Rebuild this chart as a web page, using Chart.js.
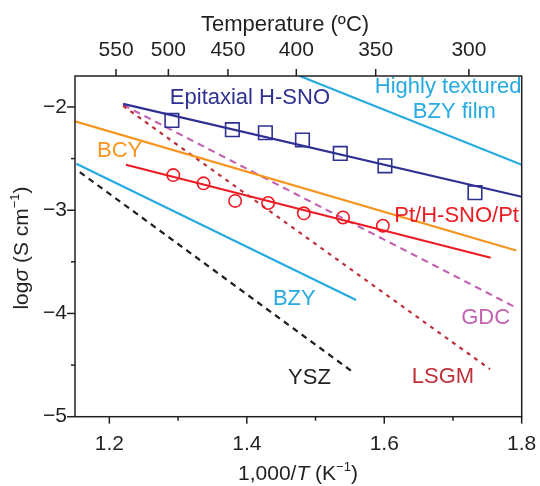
<!DOCTYPE html>
<html>
<head>
<meta charset="utf-8">
<script src="https://cdn.jsdelivr.net/npm/chart.js@4.4.1/dist/chart.umd.min.js"></script>
<style>
  html, body { margin: 0; padding: 0; background: #fff; }
  #wrap { width: 540px; height: 486px; }
</style>
</head>
<body>
<div id="wrap"><canvas id="chart"></canvas></div>
<script>
// x = 1,000/T (K^-1), y = log sigma (S cm^-1)
const hSnoX = [1.291, 1.379, 1.427, 1.481, 1.536, 1.601, 1.732];
const hSnoY = [-2.13, -2.22, -2.25, -2.32, -2.45, -2.57, -2.83];
const ptX = [1.293, 1.337, 1.383, 1.431, 1.483, 1.540, 1.598];
const ptY = [-2.66, -2.74, -2.91, -2.93, -3.03, -3.07, -3.15];

// fitted / literature lines (end points)
const hSnoFitX = [1.220, 1.800];
const hSnoFitY = [-1.97, -2.87];
const ptFitX = [1.224, 1.755];
const ptFitY = [-2.56, -3.46];
const texturedBzyX = [1.477, 1.800];
const texturedBzyY = [-1.70, -2.56];
const bcyX = [1.150, 1.792];
const bcyY = [-2.14, -3.39];
const bzyX = [1.152, 1.559];
const bzyY = [-2.55, -3.87];
const yszX = [1.157, 1.557];
const yszY = [-2.63, -4.58];
const lsgmX = [1.220, 1.754];
const lsgmY = [-1.99, -4.54];
const gdcX = [1.220, 1.788];
const gdcY = [-1.98, -3.93];

const xTicks = [1.2, 1.3, 1.4, 1.5, 1.6, 1.7, 1.8];
const xLabelled = [1.2, 1.4, 1.6, 1.8];
const yTicks = [-5, -4.5, -4, -3.5, -3, -2.5, -2];
const topTemps = [550, 500, 450, 400, 350, 300];

const ink = '#231f20';
const navy = '#2e3192';
const sky = '#27aae1';
const orange = '#f7941d';
const red = '#ed1c24';
const wine = '#c0303a';
const orchid = '#c362b0';
const family = "'Liberation Sans', Arial, Helvetica, sans-serif";
const fontSize = 21;
const noteSize = 22;

const notes = [
  { text: 'Epitaxial H-SNO', x: 1.288, y: -1.916, color: navy, align: 'left' },
  { text: 'Highly textured', x: 1.693, y: -1.809, color: sky, align: 'center' },
  { text: 'BZY film', x: 1.702, y: -2.051, color: sky, align: 'center' },
  { text: 'BCY', x: 1.182, y: -2.429, color: orange, align: 'left' },
  { text: 'Pt/H-SNO/Pt', x: 1.796, y: -3.055, color: red, align: 'right' },
  { text: 'BZY', x: 1.438, y: -3.862, color: sky, align: 'left' },
  { text: 'GDC', x: 1.783, y: -4.045, color: orchid, align: 'right' },
  { text: 'LSGM', x: 1.640, y: -4.617, color: wine, align: 'left' },
  { text: 'YSZ', x: 1.460, y: -4.626, color: ink, align: 'left' }
];

function pts(xs, ys) {
  return xs.map((x, i) => ({ x, y: ys[i] }));
}

function fitLine(label, xs, ys, color, dash) {
  return {
    label,
    data: pts(xs, ys),
    showLine: true,
    borderColor: color,
    borderWidth: 2.2,
    borderDash: dash || [],
    pointRadius: 0,
    fill: false,
    tension: 0
  };
}

function markers(label, xs, ys, color, style, radius) {
  return {
    label,
    data: pts(xs, ys),
    showLine: false,
    pointStyle: style,
    pointRadius: radius,
    pointBorderColor: color,
    pointBorderWidth: 1.6,
    pointBackgroundColor: 'rgba(0,0,0,0)'
  };
}

function richFont(p, size) {
  return (p.i ? 'italic ' : '') + (p.sup ? Math.round(size * 0.62) : size) + 'px ' + family;
}

function drawRich(ctx, parts, cx, cy, size) {
  let w = 0;
  parts.forEach((p) => { ctx.font = richFont(p, size); w += ctx.measureText(p.t).width; });
  let x = cx - w / 2;
  ctx.textAlign = 'left';
  ctx.textBaseline = 'middle';
  parts.forEach((p) => {
    ctx.font = richFont(p, size);
    ctx.fillText(p.t, x, p.sup ? cy - size * 0.33 : cy);
    x += ctx.measureText(p.t).width;
  });
}

// no automatic label overflow padding: the layout below fixes the plot box
function noPadding(scale) {
  scale.paddingLeft = 0;
  scale.paddingRight = 0;
  scale.paddingTop = 0;
  scale.paddingBottom = 0;
}

const framePlugin = {
  id: 'frame',
  afterDraw(chart) {
    const { ctx, chartArea: a, scales } = chart;
    ctx.save();
    ctx.strokeStyle = ink;
    ctx.lineWidth = 1.5;
    ctx.strokeRect(a.left, a.top, a.right - a.left, a.bottom - a.top);

    function seg(x1, y1, x2, y2) {
      ctx.beginPath();
      ctx.moveTo(x1, y1);
      ctx.lineTo(x2, y2);
      ctx.stroke();
    }
    xTicks.forEach((v) => {
      const px = scales.x.getPixelForValue(v);
      seg(px, a.bottom, px, a.bottom + (xLabelled.includes(v) ? 7 : 4));
    });
    topTemps.forEach((t) => {
      const px = scales.x2.getPixelForValue(1000 / (t + 273.15));
      seg(px, a.top, px, a.top - 7);
    });
    yTicks.forEach((v) => {
      const py = scales.y.getPixelForValue(v);
      seg(a.left - (Number.isInteger(v) ? 8 : 4), py, a.left, py);
    });

    // annotations
    ctx.textBaseline = 'middle';
    ctx.font = noteSize + 'px ' + family;
    notes.forEach((n) => {
      ctx.fillStyle = n.color;
      ctx.textAlign = n.align;
      ctx.fillText(n.text, scales.x.getPixelForValue(n.x), scales.y.getPixelForValue(n.y));
    });

    // axis titles
    ctx.fillStyle = ink;
    drawRich(ctx, [{ t: 'Temperature (ºC)' }], 285, 25, noteSize);
    drawRich(ctx, [{ t: '1,000/' }, { t: 'T', i: true }, { t: ' (K' }, { t: '−1', sup: true }, { t: ')' }], 298, 474, fontSize);
    ctx.save();
    ctx.translate(22, 248);
    ctx.rotate(-Math.PI / 2);
    drawRich(ctx, [{ t: 'log' }, { t: 'σ', i: true }, { t: ' (S cm' }, { t: '−1', sup: true }, { t: ')' }], 0, 0, fontSize);
    ctx.restore();
    ctx.restore();
  }
};

const tickFont = { family, size: fontSize };

new Chart(document.getElementById('chart'), {
  type: 'scatter',
  data: {
    datasets: [
      markers('Epitaxial H-SNO', hSnoX, hSnoY, navy, 'rect', 9.6),
      markers('Pt/H-SNO/Pt', ptX, ptY, red, 'circle', 6.2),
      fitLine('H-SNO fit', hSnoFitX, hSnoFitY, navy),
      fitLine('Pt fit', ptFitX, ptFitY, red),
      fitLine('Highly textured BZY film', texturedBzyX, texturedBzyY, sky),
      fitLine('BCY', bcyX, bcyY, orange),
      fitLine('BZY', bzyX, bzyY, sky),
      fitLine('YSZ', yszX, yszY, ink, [6, 5]),
      fitLine('LSGM', lsgmX, lsgmY, wine, [4, 5]),
      fitLine('GDC', gdcX, gdcY, orchid, [7, 5])
    ]
  },
  options: {
    responsive: true,
    maintainAspectRatio: false,
    animation: false,
    events: [],
    layout: { padding: { left: 0, right: 18.3, top: 0, bottom: 0 } },
    plugins: {
      legend: { display: false },
      tooltip: { enabled: false }
    },
    scales: {
      x: {
        type: 'linear',
        position: 'bottom',
        min: 1.15,
        max: 1.8,
        afterBuildTicks(scale) { scale.ticks = xTicks.map((value) => ({ value })); },
        afterFit(scale) { scale.height = 69.3; noPadding(scale); },
        grid: { display: false, drawTicks: false },
        border: { display: false },
        ticks: {
          padding: 15,
          color: ink,
          font: tickFont,
          maxRotation: 0,
          autoSkip: false,
          callback(value) { return xLabelled.includes(value) ? value.toFixed(1) : ''; }
        }
      },
      x2: {
        type: 'linear',
        axis: 'x',
        position: 'top',
        min: 1.1532,
        max: 1.824,
        afterBuildTicks(scale) { scale.ticks = topTemps.map((t) => ({ value: 1000 / (t + 273.15) })); },
        afterFit(scale) { scale.height = 76; noPadding(scale); },
        grid: { display: false, drawTicks: false },
        border: { display: false },
        ticks: {
          padding: 13,
          color: ink,
          font: tickFont,
          maxRotation: 0,
          autoSkip: false,
          callback(value, index) { return String(topTemps[index]); }
        }
      },
      y: {
        type: 'linear',
        position: 'left',
        min: -5,
        max: -1.7,
        afterBuildTicks(scale) { scale.ticks = yTicks.map((value) => ({ value })); },
        afterFit(scale) { scale.width = 75; noPadding(scale); },
        grid: { display: false, drawTicks: false },
        border: { display: false },
        ticks: {
          padding: 8,
          color: ink,
          font: tickFont,
          autoSkip: false,
          callback(value) { return Number.isInteger(value) ? '−' + Math.abs(value) : ''; }
        }
      }
    }
  },
  plugins: [framePlugin]
});
</script>
</body>
</html>
